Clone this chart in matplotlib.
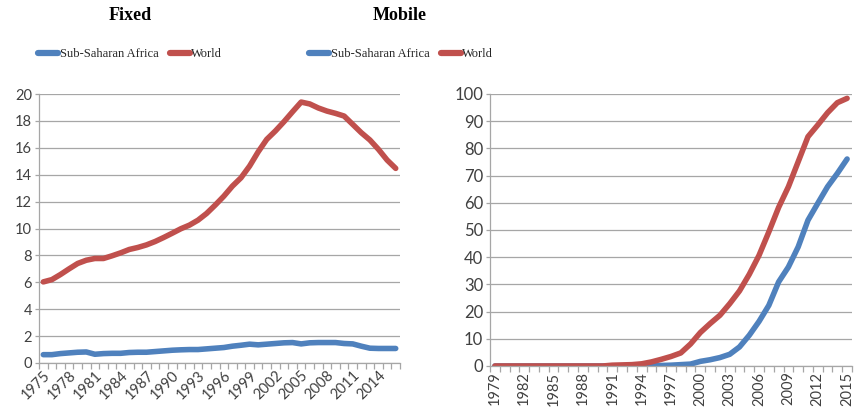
import numpy as np
import matplotlib
matplotlib.use("Agg")
import matplotlib.pyplot as plt

# Fixed telephone subscriptions per 100 people
fixed_years = list(range(1975, 2017))
fixed_ssa = [0.62, 0.62, 0.70, 0.75, 0.80, 0.82, 0.65, 0.70, 0.72, 0.72,
             0.78, 0.80, 0.80, 0.85, 0.90, 0.95, 0.98, 1.00, 1.00, 1.05,
             1.10, 1.15, 1.25, 1.32, 1.40, 1.35, 1.40, 1.45, 1.50, 1.52,
             1.42, 1.50, 1.52, 1.52, 1.52, 1.45, 1.42, 1.25, 1.10, 1.08,
             1.08, 1.08]
fixed_world = [6.03, 6.20, 6.58, 7.00, 7.40, 7.64, 7.77, 7.77, 7.97, 8.19,
               8.44, 8.59, 8.78, 9.03, 9.33, 9.65, 9.98, 10.25, 10.62, 11.12,
               11.74, 12.40, 13.15, 13.77, 14.64, 15.70, 16.63, 17.25, 17.94, 18.68,
               19.40, 19.26, 18.96, 18.73, 18.56, 18.36, 17.74, 17.12, 16.58, 15.88,
               15.09, 14.47]

# Mobile subscriptions per 100 people
mobile_years = list(range(1979, 2016))
mobile_ssa = [0, 0, 0, 0, 0, 0, 0, 0, 0, 0,
              0, 0, 0, 0, 0, 0, 0.1, 0.2, 0.3, 0.5,
              0.7, 1.7, 2.3, 3.1, 4.3, 7.0, 11.3, 16.4, 22.3, 30.9,
              36.4, 43.8, 53.6, 59.8, 65.9, 70.8, 76.1]
mobile_world = [0, 0, 0, 0, 0, 0, 0, 0, 0, 0,
                0, 0, 0.3, 0.4, 0.5, 0.8, 1.5, 2.45, 3.5, 4.8,
                8.1, 12.3, 15.6, 18.65, 22.9, 27.6, 33.7, 40.7, 49.3, 58.3,
                65.9, 75.1, 84.3, 88.6, 93.1, 96.8, 98.4]

labels = ["Sub-Saharan Africa", "World"]
blue = "#4F81BD"
red = "#C0504D"
grid_col = "#A6A6A6"
txt_col = "#404040"

fig = plt.figure(figsize=(8.56, 4.16), dpi=100)
ax1 = fig.add_axes([39/856, 1-363/416, 361/856, 269/416])
ax2 = fig.add_axes([490/856, 1-366/416, 362/856, 272/416])


def style(ax, years, step, ymax, ystep, rot, ysize):
    ax.set_xlim(years[0]-0.5, years[-1]+0.5)
    ax.set_ylim(0, ymax)
    ax.set_yticks(np.arange(0, ymax+1, ystep))
    ax.yaxis.grid(True, color=grid_col, lw=0.9)
    ax.set_axisbelow(True)
    for s in ["top", "right"]:
        ax.spines[s].set_visible(False)
    for s in ["left", "bottom"]:
        ax.spines[s].set_color(grid_col)
        ax.spines[s].set_linewidth(0.9)
    ax.set_xticks(years[::step])
    ax.set_xticks(np.arange(years[0]-0.5, years[-1]+1), minor=True)
    ax.tick_params(axis="x", which="major", length=0, pad=4)
    ax.tick_params(axis="x", which="minor", length=4, color=grid_col, width=0.9)
    ax.tick_params(axis="y", length=3, color=grid_col, width=0.9, pad=2,
                   labelsize=ysize, labelcolor=txt_col)
    if rot == 45:
        ax.set_xticklabels([str(y) for y in years[::step]], rotation=45,
                           ha="right", rotation_mode="anchor", fontsize=10.5,
                           color=txt_col)
    else:
        ax.set_xticklabels([str(y) for y in years[::step]], rotation=90,
                           ha="center", va="top", fontsize=10.5,
                           color=txt_col)
    for t in ax.get_xticklabels() + ax.get_yticklabels():
        t.set_fontfamily("Lato")


ax1.plot(fixed_years, fixed_ssa, color=blue, lw=4, solid_capstyle="round",
         solid_joinstyle="round", label=labels[0])
ax1.plot(fixed_years, fixed_world, color=red, lw=4, solid_capstyle="round",
         solid_joinstyle="round", label=labels[1])
style(ax1, fixed_years, 3, 20, 2, 45, 10.5)

ax2.plot(mobile_years, mobile_ssa, color=blue, lw=4, solid_capstyle="round",
         solid_joinstyle="round", label=labels[0])
ax2.plot(mobile_years, mobile_world, color=red, lw=4, solid_capstyle="round",
         solid_joinstyle="round", label=labels[1])
style(ax2, mobile_years, 3, 100, 10, 90, 12)

fig.text(130/856, 1-15/416, "Fixed", ha="center", va="center",
         fontfamily="Liberation Serif", fontweight="bold", fontsize=13)
fig.text(400/856, 1-15/416, "Mobile", ha="center", va="center",
         fontfamily="Liberation Serif", fontweight="bold", fontsize=13)

for ax, cx in [(ax1, 130), (ax2, 401)]:
    h, l = ax.get_legend_handles_labels()
    leg = fig.legend(h, l, loc="center", bbox_to_anchor=(cx/856, 1-54/416), ncol=2,
                     frameon=False, handlelength=1.6, handletextpad=0.1,
                     columnspacing=0.9, borderpad=0, borderaxespad=0,
                     prop={"family": "Liberation Serif", "size": 9})
    for t in leg.get_texts():
        t.set_color("#262626")
    for ln in leg.get_lines():
        ln.set_linewidth(4.5)

fig.savefig("out.png", dpi=100)
